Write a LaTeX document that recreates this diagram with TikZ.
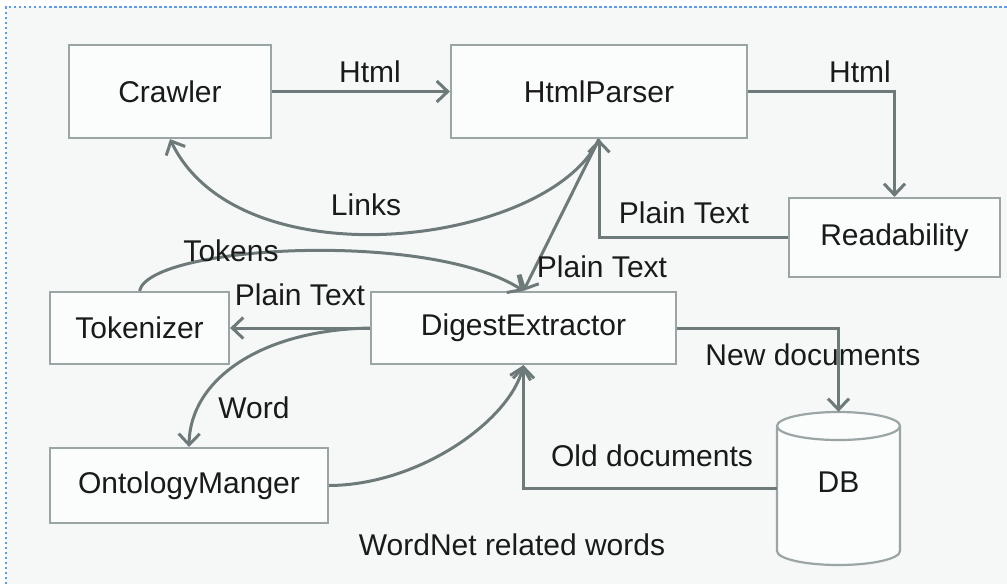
\documentclass[tikz,border=0pt]{standalone}
\usepackage{fontspec}
\setmainfont{Liberation Sans}
\usetikzlibrary{arrows.meta}
\definecolor{bgcol}{HTML}{F6F8F8}
\definecolor{boxfill}{HTML}{FBFCFC}
\definecolor{boxcol}{HTML}{9CA5A5}
\definecolor{linecol}{HTML}{6E7A7A}
\definecolor{txtcol}{HTML}{1A1A1A}
\definecolor{bordcol}{HTML}{5B9BF0}
\tikzset{
  box/.style={draw=boxcol, line width=2.2pt, fill=boxfill, inner sep=0pt, text=txtcol,
    font=\fontsize{30}{36}\selectfont},
  lbl/.style={text=txtcol, inner sep=0pt, font=\fontsize{30}{36}\selectfont},
  conn/.style={draw=linecol, line width=3pt, -{Straight Barb[length=11pt,width=21pt]}},
  plain/.style={draw=linecol, line width=3pt},
}
\begin{document}
\begin{tikzpicture}[x=1pt,y=-1pt]
\useasboundingbox (0,0) rectangle (1007,584);
\fill[bgcol] (6,7) rectangle (1007,584);
\draw[bordcol, line width=2.5pt, dash pattern=on 2.5pt off 2.5pt] (6,584) -- (6,7) -- (1007,7);

% nodes
\node[box, minimum width=202pt, minimum height=93pt] (crawler) at (170,91.5) {Crawler};
\node[box, minimum width=296pt, minimum height=93pt] (parser) at (599,91.5) {HtmlParser};
\node[box, minimum width=211pt, minimum height=79pt] (read) at (894.5,237.5) {Readability};
\node[box, minimum width=179pt, minimum height=72pt] (tok) at (139.5,328) {Tokenizer};
\node[box, minimum width=305pt, minimum height=72pt] (digest) at (523.5,328) {DigestExtractor};
\node[box, minimum width=278pt, minimum height=75pt] (onto) at (189,485.5) {OntologyManger};

% DB cylinder
\node[inner sep=0pt, minimum width=123pt, minimum height=153pt] (db) at (838.5,488.5) {};
\draw[boxcol, line width=2.2pt, fill=boxfill]
  (777,426) -- (777,551) arc[start angle=180, end angle=360, x radius=61.5pt, y radius=14pt]
  -- (900,426) arc[start angle=0, end angle=180, x radius=61.5pt, y radius=14pt] -- cycle;
\draw[boxcol, line width=2.2pt] (777,426) arc[start angle=180, end angle=360, x radius=61.5pt, y radius=14pt];
\node[lbl] at (838.5,482) {DB};

% connectors
\draw[conn] (crawler.east |- parser) -- (parser.west);
\draw[conn] (parser.east) -| (read.north);
\draw[conn] (read.west) -| (parser.south);
\draw[conn] (parser.south) .. controls (550,245) and (240,285) .. (crawler.south);
\draw[conn] (parser.south) -- (digest.north);
\draw[conn] (tok.north) .. controls (150,245) and (430,230) .. (digest.north);
\draw[conn] (digest.west) -- (tok.east);
\draw[conn] (digest.west) .. controls (260,330) and (190,380) .. (onto.north);
\draw[conn] (onto.east) .. controls (420,485) and (510,420) .. (digest.south);
\draw[conn] (digest.east) -| (db.north);
\draw[conn] (db.west) -| (digest.south);

% labels
\node[lbl] (l1) at (370,72) {Html};
\node[lbl] (l2) at (860,72) {Html};
\node[lbl] (l3) at (366,205) {Links};
\node[lbl] (l4) at (684,213) {Plain Text};
\node[lbl] (l5) at (602,267) {Plain Text};
\node[lbl] (l6) at (231,251) {Tokens};
\node[lbl] (l7) at (300,295) {Plain Text};
\node[lbl] (l8) at (254,408) {Word};
\node[lbl] (l9) at (512,545) {WordNet related words};
\node[lbl] (l10) at (813,355) {New documents};
\node[lbl] (l11) at (652,456) {Old documents};
\end{tikzpicture}
\end{document}
